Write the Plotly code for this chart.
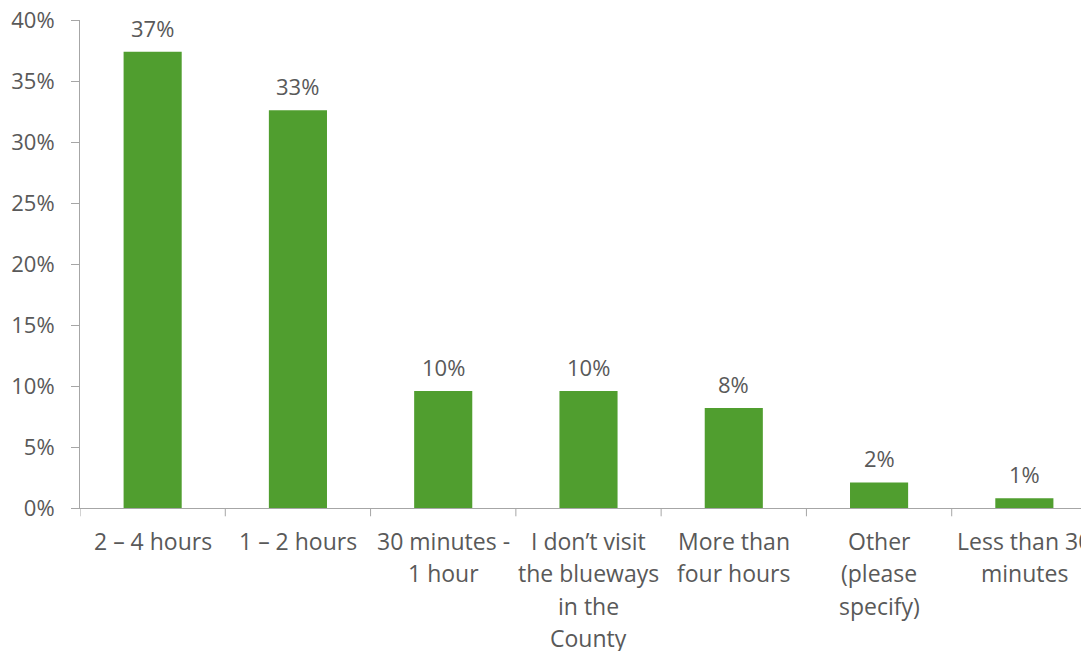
import plotly.graph_objects as go

categories = [
    "2 – 4 hours",
    "1 – 2 hours",
    "30 minutes -<br>1 hour",
    "I don’t visit<br>the blueways<br>in the<br>County",
    "More than<br>four hours",
    "Other<br>(please<br>specify)",
    "Less than 30<br>minutes",
]
values = [37.4, 32.6, 9.6, 9.6, 8.2, 2.1, 0.8]
labels = ["37%", "33%", "10%", "10%", "8%", "2%", "1%"]
y_ticks = [0, 5, 10, 15, 20, 25, 30, 35, 40]
y_tick_text = ["0%", "5%", "10%", "15%", "20%", "25%", "30%", "35%", "40%"]

txt = "#595959"
axis_col = "#A6A6A6"
font_family = "Open Sans, sans-serif"
fs = 23
first_off = 33   # px from axis to first label line
line_h = 32.3    # px between category label lines

xs = list(range(len(categories)))

fig = go.Figure(
    go.Bar(
        x=xs,
        y=values,
        marker=dict(color="#509E2F", line=dict(width=0)),
        width=0.4,
    )
)

# value labels above bars
for xi, v, lab in zip(xs, values, labels):
    fig.add_annotation(
        x=xi, y=v, text=lab, showarrow=False,
        xref="x", yref="y", yanchor="bottom", yshift=7,
        font=dict(size=fs - 1, color=txt, family=font_family),
    )

# category labels (one annotation per line to match the wider line spacing)
for xi, cat in zip(xs, categories):
    for k, part in enumerate(cat.split("<br>")):
        fig.add_annotation(
            x=xi, y=0, text=part, showarrow=False,
            xref="x", yref="paper", yanchor="middle",
            yshift=-(first_off + line_h * k),
            font=dict(size=fs, color=txt, family=font_family),
        )

fig.update_layout(
    width=1089,
    height=651,
    margin=dict(l=72, r=0, t=12, b=151),
    plot_bgcolor="white",
    paper_bgcolor="white",
    showlegend=False,
    font=dict(family=font_family, color=txt, size=fs),
    xaxis=dict(
        tickmode="array",
        tickvals=xs,
        range=[-0.5, 6.5],
        showline=True,
        linecolor=axis_col,
        linewidth=1,
        ticks="",
        showticklabels=False,
        showgrid=False,
        zeroline=False,
        automargin=False,
    ),
    yaxis=dict(
        range=[0, 40],
        tickmode="array",
        tickvals=y_ticks,
        ticktext=y_tick_text,
        showline=True,
        linecolor=axis_col,
        linewidth=1,
        ticks="outside",
        ticklen=8,
        tickcolor=axis_col,
        ticklabelstandoff=12,
        ticklabeloverflow="allow",
        showgrid=False,
        zeroline=False,
        automargin=False,
        tickfont=dict(size=fs - 1, color=txt),
    ),
)

# category boundary ticks on x axis
boundaries = [i - 0.5 for i in range(len(categories) + 1)]
for b in boundaries:
    fig.add_shape(
        type="line", xref="x", yref="paper",
        x0=b, x1=b, y0=0, y1=-0.017,
        line=dict(color=axis_col, width=1),
    )

fig.write_html("out.html")
